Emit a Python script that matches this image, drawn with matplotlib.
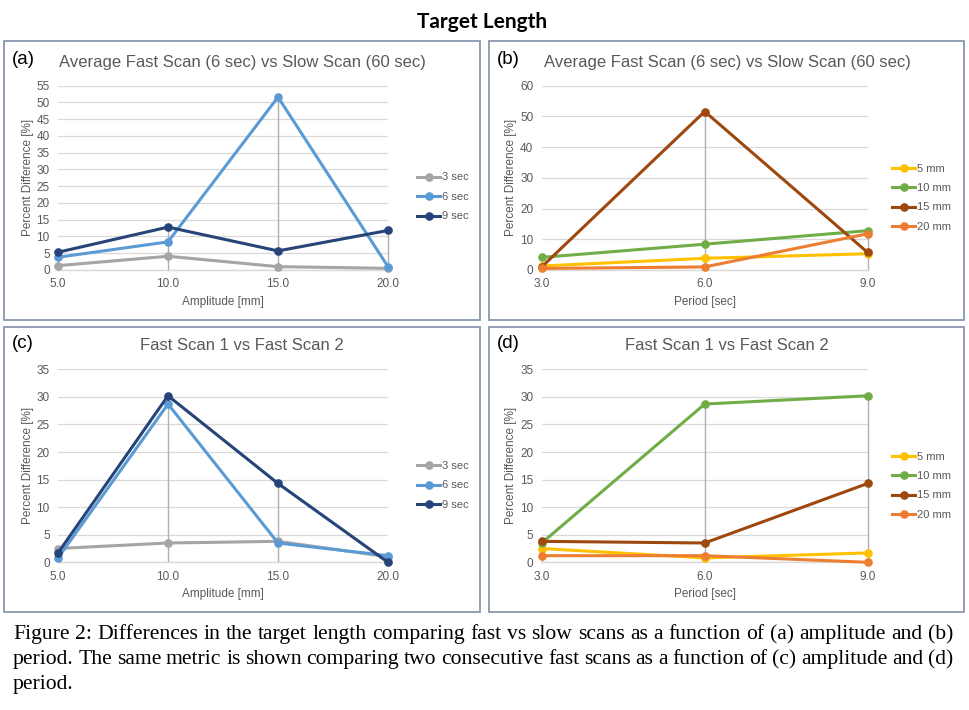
import matplotlib
matplotlib.use("Agg")
import matplotlib.pyplot as plt
from matplotlib.patches import Rectangle
from matplotlib.lines import Line2D

# ---------------- data ----------------
amplitudes = [5.0, 10.0, 15.0, 20.0]
periods = [3.0, 6.0, 9.0]
period_labels = ["3 sec", "6 sec", "9 sec"]
amp_labels = ["5 mm", "10 mm", "15 mm", "20 mm"]

# (a) Average fast scan vs slow scan, by amplitude
a_3sec = [1.3, 4.1, 1.0, 0.5]
a_6sec = [3.8, 8.4, 51.6, 1.0]
a_9sec = [5.3, 12.8, 5.7, 11.8]

# (b) Average fast scan vs slow scan, by period
b_5mm = [1.3, 3.8, 5.3]
b_10mm = [4.1, 8.4, 12.8]
b_15mm = [1.0, 51.6, 5.7]
b_20mm = [0.5, 1.0, 11.8]

# (c) Fast scan 1 vs fast scan 2, by amplitude
c_3sec = [2.5, 3.5, 3.8, 1.0]
c_6sec = [0.8, 28.7, 3.5, 1.2]
c_9sec = [1.7, 30.2, 14.3, 0.0]

# (d) Fast scan 1 vs fast scan 2, by period
d_5mm = [2.5, 0.8, 1.7]
d_10mm = [3.5, 28.7, 30.2]
d_15mm = [3.8, 3.5, 14.3]
d_20mm = [1.2, 1.2, 0.0]

amp_ticks = ["5.0", "10.0", "15.0", "20.0"]
per_ticks = ["3.0", "6.0", "9.0"]

period_colors = ["#A5A5A5", "#5B9BD5", "#264478"]
amp_colors = ["#FFC000", "#70AD47", "#9E480E", "#ED7D31"]

# ---------------- layout ----------------
W, H = 970, 710
fig = plt.figure(figsize=(W / 100, H / 100), dpi=100)
plt.rcParams["font.family"] = ["Liberation Sans", "DejaVu Sans"]

TXT = "#595959"


def fx(x):
    return x / W


def fy(y):
    return 1 - y / H


def add_axes(x0, x1, ybot, ytop):
    return fig.add_axes([fx(x0), fy(ybot), (x1 - x0) / W, (ybot - ytop) / H])


def panel_box(x0, y0, x1, y1):
    r = Rectangle((fx(x0), fy(y1)), (x1 - x0) / W, (y1 - y0) / H,
                  transform=fig.transFigure, fill=False,
                  edgecolor="#8A99AE", linewidth=1.3)
    fig.add_artist(r)


def draw_panel(ax, xs, series, labels, colors, xticklabels, ymax, ystep,
               xlabel, leg_x, leg_y):
    # drop lines
    for i, x in enumerate(xs):
        top = max(s[i] for s in series)
        ax.plot([x, x], [0, top], color="#B0B0B0", lw=1.0, zorder=2,
                clip_on=False)
    for s, lab, c in zip(series, labels, colors):
        ax.plot(xs, s, color=c, lw=2.2, marker="o", markersize=5.2,
                label=lab, zorder=3, clip_on=False)
    ax.set_xlim(xs[0], xs[-1])
    ax.set_ylim(0, ymax)
    ax.set_yticks(list(range(0, ymax + 1, ystep)))
    ax.set_xticks(xs)
    ax.set_xticklabels(xticklabels)
    ax.tick_params(axis="both", length=0, labelsize=8.5, labelcolor=TXT)
    ax.tick_params(axis="y", pad=6)
    ax.tick_params(axis="x", pad=6)
    for sp in ["top", "right", "left"]:
        ax.spines[sp].set_visible(False)
    ax.spines["bottom"].set_color("#D9D9D9")
    ax.spines["bottom"].set_linewidth(1.0)
    ax.grid(axis="y", color="#D9D9D9", lw=0.9)
    ax.set_axisbelow(True)
    ax.set_ylabel("Percent Difference [%]", fontsize=8.5, color=TXT,
                  labelpad=2)
    ax.set_xlabel(xlabel, fontsize=8.5, color=TXT, labelpad=4)
    handles = [Line2D([0], [0], color=c, lw=2.2, marker="o", markersize=5.2)
               for c in colors]
    ax.legend(handles, labels, loc="upper left",
              bbox_to_anchor=(fx(leg_x), fy(leg_y)),
              bbox_transform=fig.transFigure, frameon=False,
              fontsize=8, labelcolor=TXT, handlelength=2.1,
              handletextpad=0.15, labelspacing=0.85, borderpad=0,
              borderaxespad=0)


# panel boxes
panel_box(4, 41, 480, 320)
panel_box(489, 41, 964, 320)
panel_box(4, 327, 480, 612)
panel_box(489, 327, 964, 612)

# figure title
fig.text(fx(482), fy(22), "Target Length", ha="center", va="center",
         fontsize=15, fontweight="bold", family=["Lato", "DejaVu Sans"],
         color="black")

# panel a
ax_a = add_axes(58, 388, 270, 85.7)
draw_panel(ax_a, amplitudes, [a_3sec, a_6sec, a_9sec], period_labels,
           period_colors, amp_ticks, 55, 5, "Amplitude [mm]", 417, 172.5)
# panel b
ax_b = add_axes(541.7, 867.7, 270, 85.7)
draw_panel(ax_b, periods, [b_5mm, b_10mm, b_15mm, b_20mm], amp_labels,
           amp_colors, per_ticks, 60, 10, "Period [sec]", 892, 163.5)
# panel c
ax_c = add_axes(58, 388, 562.3, 369.3)
draw_panel(ax_c, amplitudes, [c_3sec, c_6sec, c_9sec], period_labels,
           period_colors, amp_ticks, 35, 5, "Amplitude [mm]", 417, 461)
# panel d
ax_d = add_axes(541.7, 867.7, 562.3, 369.3)
draw_panel(ax_d, periods, [d_5mm, d_10mm, d_15mm, d_20mm], amp_labels,
           amp_colors, per_ticks, 35, 5, "Period [sec]", 892, 451.5)

# panel titles and letters
for (cx, cy, lx, letter, title) in [
        (242, 62, 12, "(a)", "Average Fast Scan (6 sec) vs Slow Scan (60 sec)"),
        (727, 62, 497, "(b)", "Average Fast Scan (6 sec) vs Slow Scan (60 sec)"),
        (242, 345, 12, "(c)", "Fast Scan 1 vs Fast Scan 2"),
        (727, 345, 497, "(d)", "Fast Scan 1 vs Fast Scan 2")]:
    fig.text(fx(cx), fy(cy), title, ha="center", va="center",
             fontsize=12, color=TXT)
    fig.text(fx(lx), fy(cy - 2), letter, ha="left", va="center",
             fontsize=13.5, color="black")

# caption (justified lines)
caption_lines = [
    "Figure 2: Differences in the target length comparing fast vs slow scans as a function of (a) amplitude and (b)",
    "period. The same metric is shown comparing two consecutive fast scans as a function of (c) amplitude and (d)",
    "period.",
]
renderer = fig.canvas.get_renderer()
left, right = 13, 953
baselines = [639, 664, 689]
serif = ["Liberation Serif", "DejaVu Serif"]

# fit the font size so the first line fills the text width naturally
probe = fig.text(0, 0, caption_lines[0], fontsize=12, family=serif)
w12 = probe.get_window_extent(renderer).width
probe.remove()
cap_size = 12 * (right - left) / w12 * 0.995

for k, (line, yb) in enumerate(zip(caption_lines, baselines)):
    words = line.split(" ")
    kw = dict(fontsize=cap_size, family=serif,
              color="black", va="baseline", ha="left")
    if k == len(caption_lines) - 1:
        fig.text(fx(left), fy(yb), line, **kw)
        continue
    widths = []
    for w in words:
        t = fig.text(0, 0, w, **kw)
        widths.append(t.get_window_extent(renderer).width)
        t.remove()
    gap = (right - left - sum(widths)) / (len(words) - 1)
    x = left
    for w, wd in zip(words, widths):
        fig.text(fx(x), fy(yb), w, **kw)
        x += wd + gap

fig.savefig("out.png", dpi=100)
